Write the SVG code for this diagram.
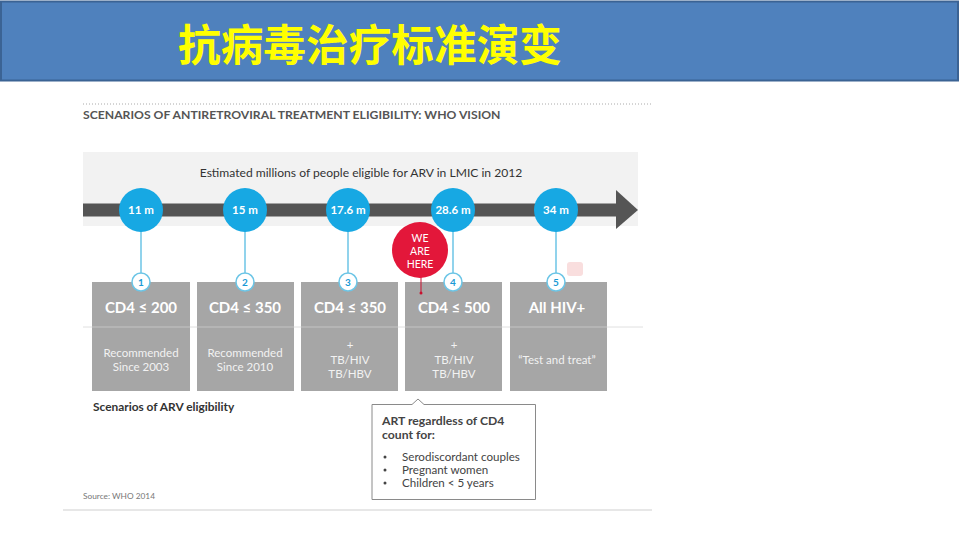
<svg xmlns="http://www.w3.org/2000/svg" width="960" height="540" viewBox="0 0 960 540">
<style>
  text { font-family: Lato, "Open Sans", "Liberation Sans", sans-serif; }
  .bubble { fill: #17a8e3; }
  .bubtxt { fill: #ffffff; font-size: 11.5px; font-weight: bold; text-anchor: middle; }
  .stem { stroke: #6cc5e6; stroke-width: 1.5; }
  .num { fill: #ffffff; stroke: #6cc5e6; stroke-width: 1.5; }
  .numtxt { fill: #1a9ad6; font-size: 10px; font-weight: bold; text-anchor: middle; }
  .box { fill: #a6a6a6; }
  .head { fill: #ffffff; font-size: 15px; font-weight: bold; text-anchor: middle; }
  .sub { fill: #f2f2f2; font-size: 11.5px; text-anchor: middle; }
  .call { fill: #444; font-size: 11.6px; }
  .callh { fill: #444; font-size: 12.2px; font-weight: bold; }
</style>
<rect x="0" y="0" width="960" height="540" fill="#ffffff"/>
<g id="header">
  <rect x="1" y="1.5" width="957" height="79" fill="#4f81bd" stroke="#3b6394" stroke-width="2"/>
  <text x="178" y="61" font-size="43" font-weight="bold" fill="#ffff00" textLength="384" lengthAdjust="spacingAndGlyphs" style="font-family:'Noto Sans CJK SC','Noto Sans CJK TC',sans-serif">抗病毒治疗标准演变</text>
</g>
<line x1="83" y1="104" x2="651" y2="104" stroke="#aaa" stroke-width="1" stroke-dasharray="1,2"/>
<text x="83" y="119" font-size="12.2" font-weight="bold" fill="#555">SCENARIOS OF ANTIRETROVIRAL TREATMENT ELIGIBILITY: WHO VISION</text>
<rect x="83" y="152" width="555" height="74" fill="#f2f2f2"/>
<text x="361" y="177" font-size="12.1" fill="#333" text-anchor="middle">Estimated millions of people eligible for ARV in LMIC in 2012</text>
<g id="connectors">
  <rect x="83" y="203.5" width="534" height="13" fill="#555555"/>
  <polygon points="616,190 638,210 616,229" fill="#555555"/>
  <line class="stem" x1="141" y1="230" x2="141" y2="275"/>
  <line class="stem" x1="245" y1="230" x2="245" y2="275"/>
  <line class="stem" x1="348" y1="230" x2="348" y2="275"/>
  <line class="stem" x1="453" y1="230" x2="453" y2="275"/>
  <line class="stem" x1="556" y1="230" x2="556" y2="275"/>
</g>
<line x1="83" y1="327" x2="643" y2="327" stroke="#e0e0e0" stroke-width="1"/>
<rect x="567" y="262" width="16" height="14" rx="3" fill="#f9dede"/>
<g id="scenario1">
  <rect class="box" x="92" y="282" width="98" height="109"/>
  <line x1="92" y1="327" x2="190" y2="327" stroke="#c4c4c4"/>
  <circle class="bubble" cx="141" cy="210" r="22"/>
  <text class="bubtxt" x="141" y="214">11 m</text>
  <circle class="num" cx="141" cy="282" r="9"/>
  <text class="numtxt" x="141" y="286">1</text>
  <text class="head" x="141" y="313">CD4 ≤ 200</text>
  <text class="sub" x="141" y="357">Recommended</text>
  <text class="sub" x="141" y="371">Since 2003</text>
</g>
<g id="scenario2">
  <rect class="box" x="197" y="282" width="97" height="109"/>
  <line x1="197" y1="327" x2="294" y2="327" stroke="#c4c4c4"/>
  <circle class="bubble" cx="245" cy="210" r="22"/>
  <text class="bubtxt" x="245" y="214">15 m</text>
  <circle class="num" cx="245" cy="282" r="9"/>
  <text class="numtxt" x="245" y="286">2</text>
  <text class="head" x="245" y="313">CD4 ≤ 350</text>
  <text class="sub" x="245" y="357">Recommended</text>
  <text class="sub" x="245" y="371">Since 2010</text>
</g>
<g id="scenario3">
  <rect class="box" x="301" y="282" width="97" height="109"/>
  <line x1="301" y1="327" x2="398" y2="327" stroke="#c4c4c4"/>
  <circle class="bubble" cx="348" cy="210" r="22"/>
  <text class="bubtxt" x="348" y="214">17.6 m</text>
  <circle class="num" cx="348" cy="282" r="9"/>
  <text class="numtxt" x="348" y="286">3</text>
  <text class="head" x="350" y="313">CD4 ≤ 350</text>
  <text class="sub" x="350" y="349">+</text>
  <text class="sub" x="350" y="364">TB/HIV</text>
  <text class="sub" x="350" y="378">TB/HBV</text>
</g>
<g id="scenario4">
  <rect class="box" x="405" y="282" width="97" height="109"/>
  <line x1="405" y1="327" x2="502" y2="327" stroke="#c4c4c4"/>
  <circle class="bubble" cx="453" cy="210" r="22"/>
  <text class="bubtxt" x="453" y="214">28.6 m</text>
  <circle class="num" cx="453" cy="282" r="9"/>
  <text class="numtxt" x="453" y="286">4</text>
  <text class="head" x="454" y="313">CD4 ≤ 500</text>
  <text class="sub" x="454" y="349">+</text>
  <text class="sub" x="454" y="364">TB/HIV</text>
  <text class="sub" x="454" y="378">TB/HBV</text>
</g>
<g id="scenario5">
  <rect class="box" x="510" y="282" width="97" height="109"/>
  <line x1="510" y1="327" x2="607" y2="327" stroke="#c4c4c4"/>
  <circle class="bubble" cx="556" cy="210" r="22"/>
  <text class="bubtxt" x="556" y="214">34 m</text>
  <circle class="num" cx="556" cy="282" r="9"/>
  <text class="numtxt" x="556" y="286">5</text>
  <text class="head" x="557" y="313">All HIV+</text>
  <text class="sub" x="557" y="364">“Test and treat”</text>
</g>
<g id="we-are-here">
  <line x1="421" y1="270" x2="421" y2="292" stroke="#c8102e" stroke-width="1"/>
  <circle cx="420" cy="250" r="28" fill="#e3173a"/>
  <text x="420" y="242" font-size="10.5" fill="#fff" text-anchor="middle">WE</text>
  <text x="420" y="255" font-size="10.5" fill="#fff" text-anchor="middle">ARE</text>
  <text x="420" y="268" font-size="10.5" fill="#fff" text-anchor="middle">HERE</text>
  <circle cx="421" cy="293" r="1.5" fill="#c8102e"/>
</g>
<text x="93" y="411" font-size="11.9" font-weight="bold" fill="#333">Scenarios of ARV eligibility</text>
<g id="callout">
  <path d="M372,404.5 H412 L418,399 L424,404.5 H535.5 V499.5 H372 Z" fill="#fff" stroke="#8a8a8a" stroke-width="1"/>
  <text class="callh" x="382" y="425">ART regardless of CD4</text>
  <text class="callh" x="382" y="439">count for:</text>
  <circle cx="385" cy="457" r="1.5" fill="#444"/>
  <circle cx="385" cy="470" r="1.5" fill="#444"/>
  <circle cx="385" cy="483" r="1.5" fill="#444"/>
  <text class="call" x="402" y="461">Serodiscordant couples</text>
  <text class="call" x="402" y="474">Pregnant women</text>
  <text class="call" x="402" y="487">Children &lt; 5 years</text>
</g>
<text x="83" y="499" font-size="8.3" fill="#777">Source: WHO 2014</text>
<line x1="63" y1="510" x2="652" y2="510" stroke="#cfcfcf" stroke-width="1"/>
</svg>
